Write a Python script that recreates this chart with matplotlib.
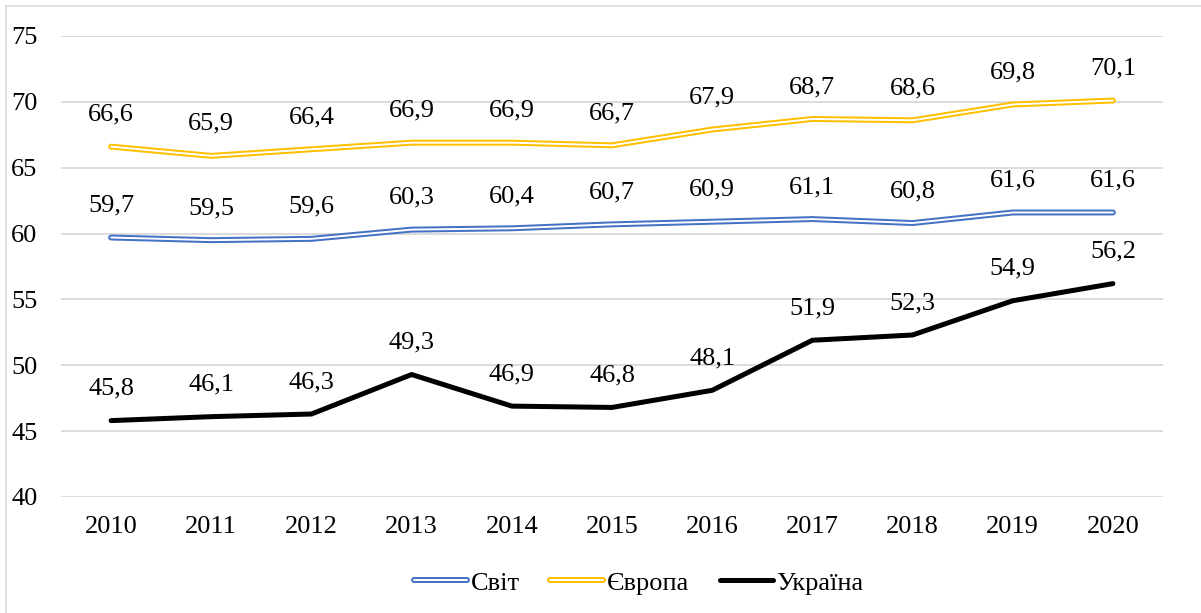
import matplotlib.pyplot as plt
from matplotlib.patches import Rectangle
from matplotlib.lines import Line2D
import matplotlib.patheffects as pe

plt.rcParams['font.family'] = ['Liberation Serif', 'DejaVu Serif']

# Chart data
years = ['2010', '2011', '2012', '2013', '2014', '2015', '2016', '2017', '2018', '2019', '2020']
world = [59.7, 59.5, 59.6, 60.3, 60.4, 60.7, 60.9, 61.1, 60.8, 61.6, 61.6]
europe = [66.6, 65.9, 66.4, 66.9, 66.9, 66.7, 67.9, 68.7, 68.6, 69.8, 70.1]
ukraine = [45.8, 46.1, 46.3, 49.3, 46.9, 46.8, 48.1, 51.9, 52.3, 54.9, 56.2]
series_names = ['Світ', 'Європа', 'Україна']

fig = plt.figure(figsize=(12.01, 6.13), dpi=100)
ax = fig.add_axes([61 / 1201, 1 - 497 / 613, (1163 - 61) / 1201, (497 - 36) / 613])

# Outer chart border (light gray)
fig.patches.append(Rectangle((6 / 1201, -0.01), 1.0, 1 - 6 / 613 + 0.01,
                             transform=fig.transFigure, fill=False,
                             edgecolor='#D9D9D9', linewidth=1.2))

x = list(range(len(years)))
blue = '#4472C4'
gold = '#FFC000'
outer_lw, inner_lw, black_lw = 4.3, 1.4, 3.6

# Double (outlined) lines for world and Europe
for vals, col in [(world, blue), (europe, gold)]:
    ax.plot(x, vals, color=col, linewidth=outer_lw, solid_capstyle='round',
            solid_joinstyle='round', zorder=3)
    ax.plot(x, vals, color='white', linewidth=inner_lw, solid_capstyle='round',
            solid_joinstyle='round', zorder=4)
ax.plot(x, ukraine, color='black', linewidth=black_lw, solid_capstyle='round',
        solid_joinstyle='round', zorder=3)

# Data labels
def fmt(v):
    return f'{v:.1f}'.replace('.', ',')

for vals in [world, europe, ukraine]:
    for xi, v in zip(x, vals):
        ax.annotate(fmt(v), (xi, v), xytext=(0, 23), textcoords='offset points',
                    ha='center', va='center', fontsize=19, color='black')

ax.set_xlim(-0.5, 10.5)
ax.set_ylim(40, 75)
ax.set_yticks(range(40, 76, 5))
ax.set_xticks(x)
ax.set_xticklabels(years)
ax.tick_params(axis='both', length=0, labelsize=19)
ax.tick_params(axis='y', pad=17)
ax.tick_params(axis='x', pad=14)
ax.grid(axis='y', color='#D9D9D9', linewidth=1.3)
ax.set_axisbelow(True)
for s in ax.spines.values():
    s.set_visible(False)

# Legend handles that mimic double lines
lw_world = Line2D([], [], color='white', linewidth=inner_lw, solid_capstyle='round',
                  path_effects=[pe.Stroke(linewidth=outer_lw, foreground=blue), pe.Normal()])
lw_europe = Line2D([], [], color='white', linewidth=inner_lw, solid_capstyle='round',
                   path_effects=[pe.Stroke(linewidth=outer_lw, foreground=gold), pe.Normal()])
lw_ukr = Line2D([], [], color='black', linewidth=black_lw, solid_capstyle='round')

fig.legend([lw_world, lw_europe, lw_ukr], series_names, loc='center',
           bbox_to_anchor=(0.532, 0.049), ncol=3, frameon=False, fontsize=19,
           handlelength=2.0, handletextpad=0.15, columnspacing=1.15)

fig.savefig('out.png', dpi=100)
